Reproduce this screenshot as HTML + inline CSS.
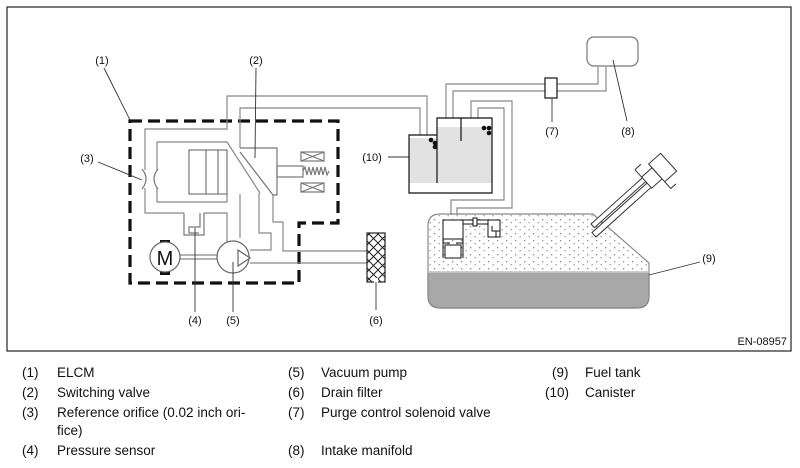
<!DOCTYPE html>
<html><head><meta charset="utf-8"><style>
html,body{margin:0;padding:0;background:#fff;}
body{width:800px;height:468px;overflow:hidden;position:relative;font-family:"Liberation Sans",sans-serif;}
.lg{position:absolute;font-size:13.5px;color:#111;white-space:nowrap;}
</style></head><body>
<svg width="800" height="468" style="position:absolute;left:0;top:0" font-family="Liberation Sans, sans-serif">
<defs>
<pattern id="dots" width="9" height="7" patternUnits="userSpaceOnUse">
<rect x="2" y="2" width="1.3" height="1.3" fill="#888"/><rect x="6.5" y="5" width="1.3" height="1.3" fill="#999"/>
</pattern>
<pattern id="hatch" width="9" height="9" patternUnits="userSpaceOnUse">
<path d="M0,0L9,9M9,0L0,9" stroke="#222" stroke-width="1"/>
</pattern>
</defs>
<rect x="7" y="7" width="784" height="344" fill="none" stroke="#222" stroke-width="1.2"/>
<text x="787" y="345" font-size="11" text-anchor="end" fill="#111">EN-08957</text>

<path d="M130,121H338V223H299V283H130Z" fill="none" stroke="#111" stroke-width="3.2" stroke-dasharray="12,6"/>

<g fill="none" stroke="#888" stroke-width="1.2">
<path d="M145,170V129H227V96H427V135"/>
<path d="M145,188V213H184"/>
<path d="M204,213H227V247"/>
<path d="M240,148V108H420V135"/>
<path d="M157,170V142H227L260,193"/>
<path d="M157,188V202H227V194"/>
<path d="M240,194V238"/>
<path d="M259,193V233H271V250H250"/>
<path d="M250,263H367"/>
<path d="M273,195V222H283V251H367"/>
<path d="M180,255H217M180,259H217"/>
<path d="M446,118V84H545"/><path d="M453,118V91H545"/>
<path d="M557,84H598V67"/><path d="M557,91H606V67"/>
<path d="M471,118V101H512V208H457V215"/>
<path d="M478,118V108H504V200H451V215"/>
</g>
<path d="M142,169Q150,179 142,189" fill="none" stroke="#777" stroke-width="1.2"/>
<path d="M158,169Q150,179 158,189" fill="none" stroke="#777" stroke-width="1.2"/>
<g fill="none" stroke="#777" stroke-width="1.2">
<rect x="189" y="150" width="38" height="44"/>
<path d="M206,150V194M218,150V194"/>
<path d="M240,148H277V195H273L240,152"/>
<rect x="277" y="166" width="26" height="11"/>
<path d="M303,171l2,-4 2,8 2,-8 2,8 2,-8 2,8 2,-8 2,8 2,-8 2,8 2,-8 2,8 2,-4"/>
<rect x="301" y="152" width="23" height="9"/><path d="M301,152L324,161M324,152L301,161"/>
<rect x="301" y="183" width="23" height="9"/><path d="M301,183L324,192M324,183L301,192"/>
<path d="M184,213V235H204V213M200,213V227H189V233H199"/>
</g>
<circle cx="233" cy="257" r="16" fill="#fff" stroke="#666" stroke-width="1.2"/>
<path d="M238,250L238,266L250,258Z" fill="#fff" stroke="#666" stroke-width="1.2"/>
<rect x="160" y="240" width="10" height="5" fill="#111"/><rect x="160" y="270" width="10" height="5" fill="#111"/>
<circle cx="165" cy="257" r="15" fill="#fff" stroke="#666" stroke-width="1.2"/>
<text x="165" y="265" font-size="20" text-anchor="middle" fill="#111">M</text>
<rect x="367" y="233" width="18" height="49" fill="url(#hatch)" stroke="#222" stroke-width="1.2"/>
<rect x="374" y="278" width="4" height="6" fill="#fff"/>

<rect x="409" y="138" width="28" height="45" fill="#e2e2e2"/>
<rect x="437" y="127" width="55" height="56" fill="#e2e2e2"/>
<g fill="none" stroke="#111" stroke-width="1.2">
<path d="M437,135H409V193H492V118H437V183"/>
<path d="M461,118V141"/>
</g>
<g fill="#111"><circle cx="431" cy="140" r="2.3"/><circle cx="435" cy="143" r="2.3"/><circle cx="435" cy="147" r="2.3"/>
<circle cx="484" cy="128" r="2.3"/><circle cx="489" cy="128" r="2.3"/><circle cx="489" cy="133" r="2.3"/></g>
<rect x="545" y="78" width="12" height="20" fill="#fff" stroke="#111" stroke-width="1.2"/>
<rect x="587" y="37" width="51" height="29" rx="7" fill="#fff" stroke="#777" stroke-width="1.2"/>

<path d="M440,214H593L649,263V296Q649,308 637,308H440Q428,308 428,296V226Q428,214 440,214Z" fill="url(#dots)" stroke="#888" stroke-width="1.2"/>
<path d="M428,272H649V296Q649,308 637,308H440Q428,308 428,296Z" fill="#a8a8a8" stroke="#888" stroke-width="1.2"/>
<line x1="428" y1="272" x2="649" y2="272" stroke="#ccc" stroke-width="1.5"/>
<g fill="#fff" stroke="#111" stroke-width="1">
<rect x="443" y="220" width="20" height="19"/>
<rect x="445" y="245" width="16" height="13"/>
<path d="M443,238V258M463,238V258M443,243H450M456,243H463"/>
<rect x="463" y="220" width="25" height="4"/><rect x="473" y="218" width="4" height="8"/>
<rect x="488" y="220" width="12" height="17"/><path d="M492,226V231H500M496,231V237"/>
</g>
<g transform="translate(596,237) rotate(-42)" fill="#fff" stroke="#333" stroke-width="1">
<rect x="0" y="-6" width="82" height="6"/>
<rect x="5" y="-13" width="72" height="5"/>
<rect x="74" y="-14" width="14" height="15"/>
<rect x="88" y="-19" width="16" height="24"/>
<path d="M74,-24V-14M74,-24H82M88,5V14H95"/>
</g>

<g stroke="#333" stroke-width="0.9" fill="none">
<path d="M104,68L130,120"/>
<path d="M256,68L255,158"/>
<path d="M98,162L142,180"/>
<path d="M195,228V312"/>
<path d="M233,262V312"/>
<path d="M376,282V310"/>
<path d="M388,157H409"/>
<path d="M552,98V122"/>
<path d="M613,60L627,121"/>
<path d="M649,275L700,262"/>
</g>
<g font-size="11" fill="#111" text-anchor="middle">
<text x="102" y="64">(1)</text>
<text x="256" y="64">(2)</text>
<text x="87" y="162">(3)</text>
<text x="195" y="324">(4)</text>
<text x="233" y="324">(5)</text>
<text x="376" y="324">(6)</text>
<text x="552" y="135">(7)</text>
<text x="628" y="135">(8)</text>
<text x="709" y="262">(9)</text>
<text x="372" y="161">(10)</text>
</g>
</svg>

<div class="lg" style="left:22px;top:365px">(1)</div><div class="lg" style="left:57px;top:365px">ELCM</div>
<div class="lg" style="left:22px;top:385px">(2)</div><div class="lg" style="left:57px;top:385px">Switching valve</div>
<div class="lg" style="left:22px;top:405px">(3)</div><div class="lg" style="left:57px;top:405px">Reference orifice (0.02 inch ori-</div>
<div class="lg" style="left:57px;top:423px">fice)</div>
<div class="lg" style="left:22px;top:443px">(4)</div><div class="lg" style="left:57px;top:443px">Pressure sensor</div>
<div class="lg" style="left:288px;top:365px">(5)</div><div class="lg" style="left:321px;top:365px">Vacuum pump</div>
<div class="lg" style="left:288px;top:385px">(6)</div><div class="lg" style="left:321px;top:385px">Drain filter</div>
<div class="lg" style="left:288px;top:405px">(7)</div><div class="lg" style="left:321px;top:405px">Purge control solenoid valve</div>
<div class="lg" style="left:288px;top:443px">(8)</div><div class="lg" style="left:321px;top:443px">Intake manifold</div>
<div class="lg" style="left:552px;top:365px">(9)</div><div class="lg" style="left:585px;top:365px">Fuel tank</div>
<div class="lg" style="left:545px;top:385px">(10)</div><div class="lg" style="left:585px;top:385px">Canister</div>
</body></html>
